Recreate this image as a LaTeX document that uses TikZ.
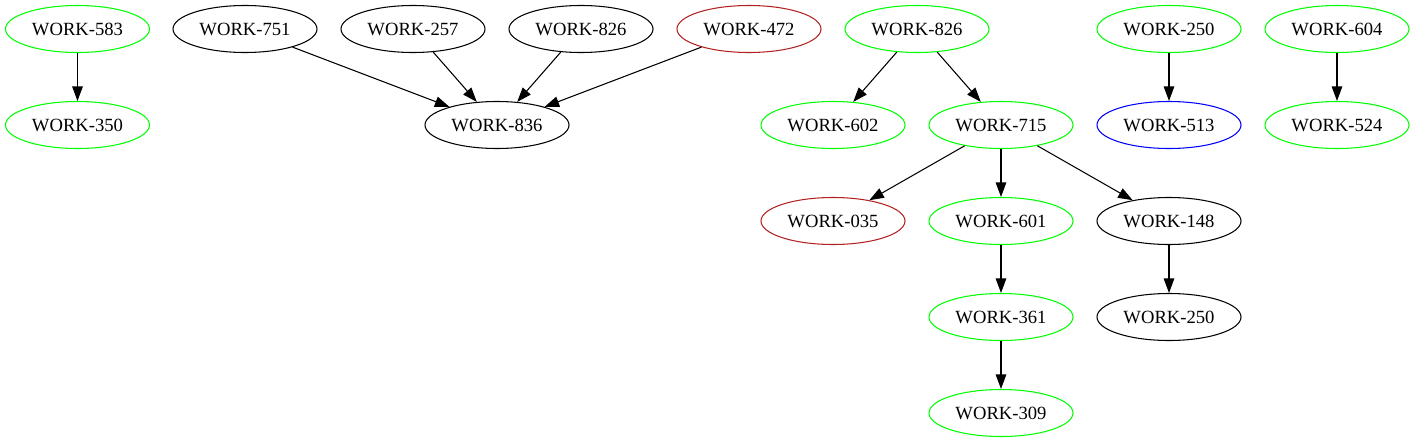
\documentclass[tikz,border=0pt]{standalone}
\usepackage{fontspec}
\setmainfont{Liberation Serif}
\definecolor{WorkGreen}{HTML}{00FF00}
\definecolor{WorkRed}{HTML}{B22222}
\definecolor{WorkBlue}{HTML}{0000FF}
\usetikzlibrary{arrows.meta, shapes.geometric}
\tikzset{
  worknode/.style={draw=black, ellipse, line width=0.6pt, minimum width=2.88cm, minimum height=0.94cm, inner sep=0pt, font=\fontsize{10.6}{12}\selectfont},
  greennode/.style={worknode, draw=WorkGreen},
  rednode/.style={worknode, draw=WorkRed},
  bluenode/.style={worknode, draw=WorkBlue},
  workarrow/.style={-{Triangle[length=2.9mm, width=2.1mm]}, line width=0.6pt, draw=black}
}
\begin{document}
\begin{tikzpicture}
\useasboundingbox (0,0) rectangle (28.34,-8.86);

% first row
\node[greennode] (w583) at (1.55,-0.58) {WORK-583};
\node[worknode] (w751) at (4.90,-0.58) {WORK-751};
\node[worknode] (w257) at (8.26,-0.58) {WORK-257};
\node[worknode] (w826a) at (11.62,-0.58) {WORK-826};
\node[rednode] (w472) at (14.98,-0.58) {WORK-472};
\node[greennode] (w826b) at (18.34,-0.58) {WORK-826};
\node[greennode] (w250a) at (23.38,-0.58) {WORK-250};
\node[greennode] (w604) at (26.74,-0.58) {WORK-604};

% second row
\node[greennode] (w350) at (1.55,-2.50) {WORK-350};
\node[worknode] (w836) at (9.94,-2.50) {WORK-836};
\node[greennode] (w602) at (16.66,-2.50) {WORK-602};
\node[greennode] (w715) at (20.02,-2.50) {WORK-715};
\node[bluenode] (w513) at (23.38,-2.50) {WORK-513};
\node[greennode] (w524) at (26.74,-2.50) {WORK-524};

% lower rows
\node[rednode] (w035) at (16.66,-4.42) {WORK-035};
\node[greennode] (w601) at (20.02,-4.42) {WORK-601};
\node[worknode] (w148) at (23.38,-4.42) {WORK-148};
\node[greennode] (w361) at (20.02,-6.34) {WORK-361};
\node[worknode] (w250b) at (23.38,-6.34) {WORK-250};
\node[greennode] (w309) at (20.02,-8.26) {WORK-309};

\draw[workarrow] (w583) -- (w350);
\draw[workarrow] (w751) -- (w836);
\draw[workarrow] (w257) -- (w836);
\draw[workarrow] (w826a) -- (w836);
\draw[workarrow] (w472) -- (w836);
\draw[workarrow] (w826b) -- (w602);
\draw[workarrow] (w826b) -- (w715);
\draw[workarrow] (w715) -- (w035);
\draw[workarrow] (w715) -- (w601);
\draw[workarrow] (w715) -- (w148);
\draw[workarrow] (w601) -- (w361);
\draw[workarrow] (w361) -- (w309);
\draw[workarrow] (w148) -- (w250b);
\draw[workarrow] (w250a) -- (w513);
\draw[workarrow] (w604) -- (w524);
\end{tikzpicture}
\end{document}
